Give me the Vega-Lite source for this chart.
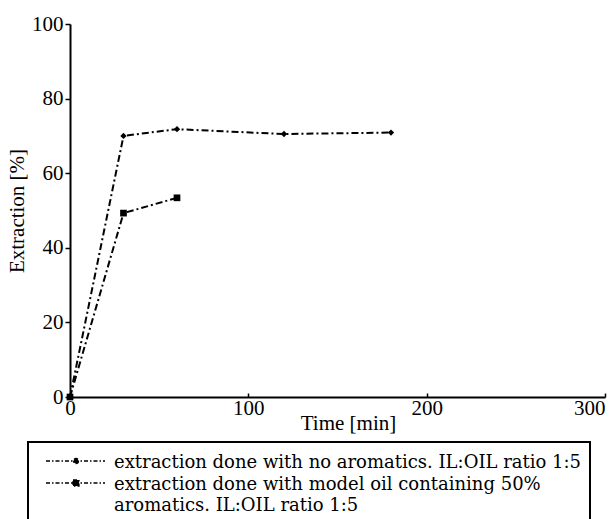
{
  "$schema": "https://vega.github.io/schema/vega-lite/v6.json",
  "width": 535,
  "height": 373,
  "autosize": {"type": "none"},
  "padding": {"left": 70, "top": 24, "right": 8, "bottom": 122},
  "background": "white",
  "config": {
    "view": {"stroke": null},
    "font": "Liberation Serif",
    "axis": {"domainColor": "black", "domainWidth": 2, "tickColor": "black", "tickWidth": 1.5, "labelColor": "black", "titleColor": "black", "labelFont": "Liberation Serif", "titleFont": "Liberation Serif", "labelFontSize": 21, "titleFontSize": 21, "titleFontWeight": "normal", "grid": false}
  },
  "data": {
    "values": [
      {"series": "s1", "time": 0, "extraction": 0},
      {"series": "s1", "time": 30, "extraction": 70},
      {"series": "s1", "time": 60, "extraction": 71.8},
      {"series": "s1", "time": 120, "extraction": 70.5},
      {"series": "s1", "time": 180, "extraction": 70.9},
      {"series": "s2", "time": 0, "extraction": 0},
      {"series": "s2", "time": 30, "extraction": 49.3},
      {"series": "s2", "time": 60, "extraction": 53.4}
    ]
  },
  "layer": [
    {
      "mark": {"type": "line", "strokeWidth": 2, "strokeDash": [7, 3, 2, 3]},
      "encoding": {
        "x": {"field": "time", "type": "quantitative", "scale": {"domain": [0, 300], "nice": false}, "axis": {"values": [0, 100, 200, 300], "title": "Time [min]", "tickSize": -4, "labelPadding": 4, "titlePadding": -6, "titleX": 278, "labelAlign": {"condition": {"test": "datum.value == 300", "value": "right"}, "value": "center"}}},
        "y": {"field": "extraction", "type": "quantitative", "scale": {"domain": [0, 100], "nice": false}, "axis": {"values": [0, 20, 40, 60, 80, 100], "title": "Extraction [%]", "tickSize": 5, "labelPadding": 2, "titlePadding": 4}},
        "color": {
          "field": "series", "type": "nominal",
          "scale": {"domain": ["s1", "s2"], "range": ["black", "black"]},
          "legend": {
            "orient": "none", "legendX": -42, "legendY": 418, "title": null,
            "strokeColor": "black", "fillColor": "white", "padding": 8,
            "labelFont": "DejaVu Serif", "labelFontSize": 18, "labelColor": "black", "labelLimit": 640,
            "labelExpr": "datum.value == 's1' ? 'extraction done with no aromatics. IL:OIL ratio 1:5   ' : ['extraction done with model oil containing 50%', 'aromatics. IL:OIL ratio 1:5']",
            "labelBaseline": "top", "labelOffset": 56, "rowPadding": -2,
            "symbolType": "M-0.1,0L5.8,0M3.15,0A0.25,0.25 0 1 1 2.65,0A0.25,0.25 0 1 1 3.15,0",
            "symbolSize": 400, "symbolStrokeWidth": 1.3, "symbolDash": [4, 2, 1.5, 2],
            "encode": {
              "legend": {"update": {"strokeWidth": {"value": 2}}},
              "labels": {"update": {"lineHeight": {"value": 21}, "dy": {"value": -7}}},
              "symbols": {"update": {"shape": {"signal": "datum.value == 's1' ? 'M-0.1,0L5.8,0M3.15,0A0.25,0.25 0 1 1 2.65,0A0.25,0.25 0 1 1 3.15,0' : 'M-0.1,0L5.8,0M2.6,-0.3H3.2V0.3H2.6Z'"}, "fill": {"value": "black"}, "stroke": {"value": "black"}}}
            }
          }
        }
      }
    },
    {
      "transform": [{"filter": "datum.series == 's1'"}],
      "mark": {"type": "point", "filled": true, "color": "black", "opacity": 1, "shape": "diamond", "size": 40},
      "encoding": {
        "x": {"field": "time", "type": "quantitative"},
        "y": {"field": "extraction", "type": "quantitative"}
      }
    },
    {
      "transform": [{"filter": "datum.series == 's2'"}],
      "mark": {"type": "point", "filled": true, "color": "black", "opacity": 1, "shape": "square", "size": 45},
      "encoding": {
        "x": {"field": "time", "type": "quantitative"},
        "y": {"field": "extraction", "type": "quantitative"}
      }
    }
  ]
}
